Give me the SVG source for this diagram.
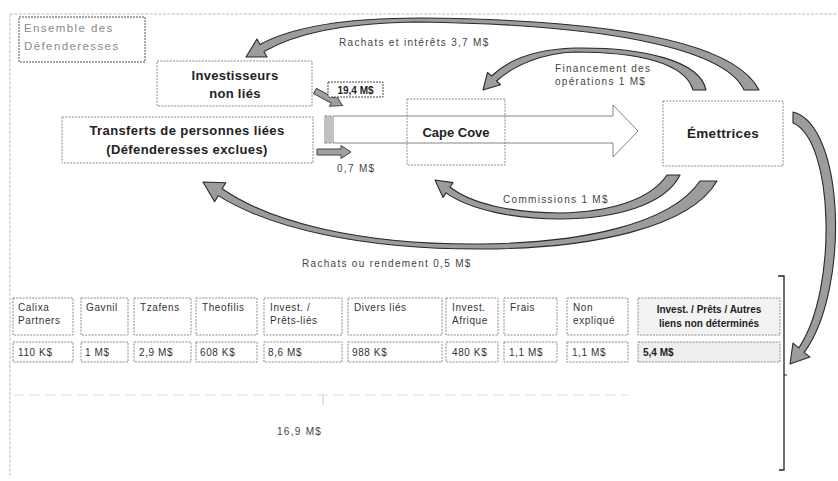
<svg xmlns="http://www.w3.org/2000/svg" width="838" height="481" viewBox="0 0 838 481">
<defs>
<style>
.bx{fill:#fff;stroke:#8a8a8a;stroke-width:1;stroke-dasharray:2 1.2}
.bxg{fill:#eeeeee;stroke:#8a8a8a;stroke-width:1;stroke-dasharray:2 1.2}
.t{font-family:"Liberation Sans",Arial,sans-serif;fill:#333}
.b{font-family:"Liberation Sans",Arial,sans-serif;font-weight:bold;fill:#222}
.sm{font-size:10px;letter-spacing:0.6px}
.lbl{font-size:10px;letter-spacing:1.3px;fill:#444}
.cur{fill:#9c9c9c;stroke:#2a2a2a;stroke-width:1.1;stroke-linejoin:round}
.blk{fill:#a0a0a0;stroke:#444;stroke-width:1}
</style>
</defs>
<rect width="838" height="481" fill="#fff"/>
<g id="frame" fill="none" stroke="#bdbdbd" stroke-width="1" stroke-dasharray="3 1.5">
<line x1="10" y1="14" x2="838" y2="14"/>
<line x1="10" y1="14" x2="10" y2="478"/>
</g>

<g id="ensemble">
<rect x="19" y="17" width="126" height="45" fill="#fff" stroke="#555" stroke-width="1" stroke-dasharray="2 1"/>
<text class="t" x="24" y="32" font-size="11.5" style="fill:#8a8a8a;letter-spacing:1.4px">Ensemble des</text>
<text class="t" x="24" y="50" font-size="11.5" style="fill:#8a8a8a;letter-spacing:1.4px">Défenderesses</text>
</g>

<g id="connectors">
<!-- big striped hollow arrow -->
<g id="big-arrow" fill="none" stroke="#777" stroke-width="0.9">
<rect x="325" y="116" width="2" height="27"/>
<rect x="329" y="116" width="2" height="27"/>
<path d="M333,116 L613,116 L613,105 L638,131 L613,157 L613,143 L333,143 Z"/>
</g>
<!-- small block arrows -->
<g transform="translate(315,91) rotate(28)">
<path class="blk" d="M0,-3 L20,-3 L20,-6.5 L31,0 L20,6.5 L20,3 L0,3 Z"/>
</g>
<path class="blk" d="M317,149 L341,149 L341,145.5 L351,152 L341,158.5 L341,155 L317,155 Z"/>
<!-- Rachats et intérêts 3,7 M$ -->
<path class="cur" d="M759,90 C738,48 640,20 420,18 C340,18 290,28 260,44.5 L257,39 L246,57 L267,57 L264,51.5 C295,34 340,23 420,22 C635,25 728,55 744,90 Z"/>
<!-- Financement des opérations 1 M$ -->
<path class="cur" d="M706,90 C700,60 640,47 575,48 C540,49 510,58 491.5,76 L487.5,72.3 L483,90 L500.5,84.7 L496.5,81 C515,64 545,53 575,52 C635,52 685,62 693,90 Z"/>
<!-- Commissions 1 M$ -->
<path class="cur" d="M667,175 C650,200 610,212 560,213 C510,213 470,203 450,187 L453,182.6 L435,180 L443,197.4 L446,192.9 C470,210 515,219 560,219 C615,219 665,205 680,175 Z"/>
<!-- Rachats ou rendement 0,5 M$ -->
<path class="cur" d="M700,181 C670,225 580,243 480,244 C360,245 270,222 222.2,188.8 L225.8,182.7 L203,182 L214.6,201.7 L218.2,195.6 C270,228 360,249 480,249 C590,249 690,228 717,181 Z"/>
<!-- Emettrices to table -->
<path class="cur" d="M793,112 C845,125 850,290 804.2,352.3 L810,357.1 L790,364 L793,343.1 L798.8,347.9 C838,290 834,140 793,123 Z"/>
<!-- bracket -->
<path d="M778,276 L784,276 L784,470 L779,470" fill="none" stroke="#222" stroke-width="1.3"/>
<line x1="784" y1="375" x2="787" y2="375" stroke="#222" stroke-width="1"/>
<!-- faint total line -->
<line x1="14" y1="395" x2="628" y2="395" stroke="#dadada" stroke-width="1" stroke-dasharray="10 6"/>
<line x1="323" y1="395" x2="323" y2="405" stroke="#c4c4c4" stroke-width="1"/>
</g>

<g id="labels">
<text class="t lbl" x="339" y="46">Rachats et intérêts 3,7 M$</text>
<text class="t lbl" x="555" y="72">Financement des</text>
<text class="t lbl" x="555" y="85">opérations 1 M$</text>
<text class="t lbl" x="337" y="172">0,7 M$</text>
<text class="t lbl" x="503" y="203">Commissions 1 M$</text>
<text class="t lbl" x="302" y="267">Rachats ou rendement 0,5 M$</text>
<text class="t lbl" x="277" y="435">16,9 M$</text>
</g>

<g id="investisseurs">
<rect class="bx" x="157" y="61" width="155" height="45"/>
<text class="b" x="235" y="80" font-size="13" text-anchor="middle" letter-spacing="0.3">Investisseurs</text>
<text class="b" x="235" y="98" font-size="13" text-anchor="middle" letter-spacing="0.3">non liés</text>
</g>

<g id="transferts">
<rect class="bx" x="62" y="117" width="251" height="46"/>
<text class="b" x="187" y="135" font-size="13" text-anchor="middle" letter-spacing="0.4">Transferts de personnes liées</text>
<text class="b" x="187" y="154" font-size="13" text-anchor="middle" letter-spacing="0.4">(Défenderesses exclues)</text>
</g>

<g id="montant-19-4">
<rect x="328" y="82" width="55" height="15" fill="#fff" stroke="#444" stroke-width="1" stroke-dasharray="2 1"/>
<text class="b" x="355.5" y="93.5" font-size="10" text-anchor="middle">19,4 M$</text>
</g>

<g id="cape-cove">
<rect x="407" y="99" width="98" height="66" fill="none" stroke="#8a8a8a" stroke-width="1" stroke-dasharray="2 1.2"/>
<text class="b" x="456" y="137" font-size="13" text-anchor="middle">Cape Cove</text>
</g>

<g id="emettrices">
<rect class="bx" x="663" y="101" width="120" height="65"/>
<text class="b" x="723" y="138" font-size="13.5" text-anchor="middle" letter-spacing="0.3">Émettrices</text>
</g>

<g id="table">
<g id="calixa"><rect class="bx" x="13" y="298" width="60" height="37"/><text class="t sm" x="18" y="311">Calixa</text><text class="t sm" x="18" y="324">Partners</text>
<rect class="bx" x="13" y="342" width="60" height="20"/><text class="t sm" x="18" y="356">110 K$</text></g>
<g id="gavnil"><rect class="bx" x="81" y="298" width="47" height="37"/><text class="t sm" x="86" y="311">Gavnil</text>
<rect class="bx" x="81" y="342" width="47" height="20"/><text class="t sm" x="85" y="356">1 M$</text></g>
<g id="tzafens"><rect class="bx" x="134" y="298" width="57" height="37"/><text class="t sm" x="140" y="311">Tzafens</text>
<rect class="bx" x="134" y="342" width="57" height="20"/><text class="t sm" x="139" y="356">2,9 M$</text></g>
<g id="theofilis"><rect class="bx" x="196" y="298" width="61" height="37"/><text class="t sm" x="202" y="311">Theofilis</text>
<rect class="bx" x="196" y="342" width="61" height="20"/><text class="t sm" x="200" y="356">608 K$</text></g>
<g id="invest-prets-lies"><rect class="bx" x="264" y="298" width="78" height="37"/><text class="t sm" x="270" y="311">Invest. /</text><text class="t sm" x="270" y="324">Prêts-liés</text>
<rect class="bx" x="264" y="342" width="78" height="20"/><text class="t sm" x="268" y="356">8,6 M$</text></g>
<g id="divers-lies"><rect class="bx" x="348" y="298" width="94" height="37"/><text class="t sm" x="354" y="311">Divers liés</text>
<rect class="bx" x="348" y="342" width="94" height="20"/><text class="t sm" x="352" y="356">988 K$</text></g>
<g id="invest-afrique"><rect class="bx" x="446" y="298" width="52" height="37"/><text class="t sm" x="452" y="311">Invest.</text><text class="t sm" x="452" y="324">Afrique</text>
<rect class="bx" x="446" y="342" width="52" height="20"/><text class="t sm" x="452" y="356">480 K$</text></g>
<g id="frais"><rect class="bx" x="504" y="298" width="53" height="37"/><text class="t sm" x="510" y="311">Frais</text>
<rect class="bx" x="504" y="342" width="53" height="20"/><text class="t sm" x="509" y="356">1,1 M$</text></g>
<g id="non-explique"><rect class="bx" x="567" y="298" width="61" height="37"/><text class="t sm" x="573" y="311">Non</text><text class="t sm" x="573" y="324">expliqué</text>
<rect class="bx" x="567" y="342" width="61" height="20"/><text class="t sm" x="572" y="356">1,1 M$</text></g>
<g id="non-determines"><rect class="bxg" x="638" y="298" width="142" height="37" style="fill:#f3f3f3"/><text class="b" x="709" y="313" font-size="10" text-anchor="middle">Invest. / Prêts / Autres</text><text class="b" x="709" y="327" font-size="10" text-anchor="middle">liens non déterminés</text>
<rect class="bxg" x="638" y="342" width="142" height="20"/><text class="b" x="643" y="356" font-size="10">5,4 M$</text></g>
</g>
</svg>
